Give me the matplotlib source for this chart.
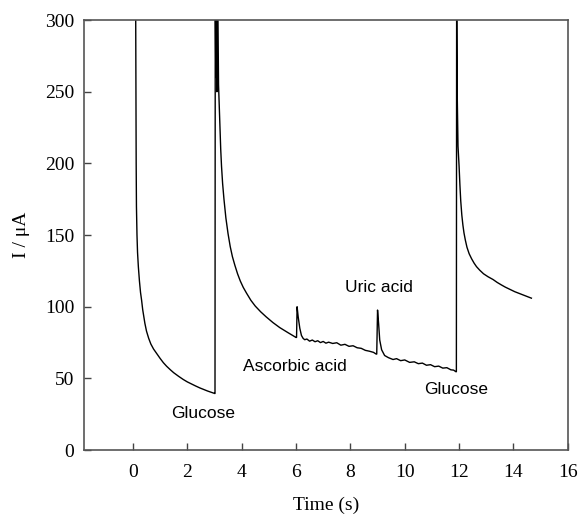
import matplotlib
matplotlib.use("Agg")
import matplotlib.pyplot as plt

# amperometric trace
t_glu1 = [0.10, 0.11, 0.12, 0.13, 0.15, 0.17, 0.20, 0.24, 0.28, 0.32, 0.36, 0.40,
          0.44, 0.50, 0.58, 0.66, 0.76, 0.87, 1.00, 1.12, 1.24, 1.38, 1.50, 1.68,
          1.85, 2.00, 2.15, 2.30, 2.46, 2.60, 2.75, 2.90, 3.01]
i_glu1 = [320, 250, 200, 170, 150, 138, 128, 118, 110, 104.5, 98, 93,
          88.5, 83, 78, 74, 70.5, 67.5, 64, 61, 58.5, 56, 54, 51.5,
          49.3, 47.6, 46.2, 44.8, 43.4, 42.3, 41.2, 40.2, 39.5]

t_glu2 = [3.02, 3.03, 3.05, 3.07, 3.09, 3.11, 3.13, 3.15, 3.17, 3.20, 3.23, 3.26,
          3.30, 3.35, 3.42, 3.50, 3.58, 3.66, 3.75, 3.85, 3.95, 4.06, 4.18, 4.34,
          4.50, 4.70, 4.90, 5.15, 5.40, 5.70, 6.00]
i_glu2 = [39.5, 320, 260, 320, 250, 320, 300, 255, 244, 228, 210, 198,
          186, 175, 162, 151, 142, 135, 129, 123, 118, 113.5, 109.5, 104.5,
          100.5, 96.5, 93, 89, 85.5, 82, 78.6]

t_asc = [6.02, 6.04, 6.08, 6.14, 6.20, 6.26, 6.32, 6.40, 6.50, 6.60, 6.70, 6.80,
         6.90, 7.00, 7.10, 7.20, 7.35, 7.50, 7.65, 7.80, 7.95, 8.10, 8.25,
         8.40, 8.55, 8.70, 8.85, 8.95]
i_asc = [78.6, 100, 93, 85, 80, 78, 77, 77.5, 76, 76.8, 75.6, 76.3,
         75, 75.8, 74.6, 75.3, 74.4, 74.9, 73.2, 73.8, 72.4, 72.8, 71.4,
         71.0, 69.6, 69.0, 68.2, 67]

t_uric = [8.97, 9.00, 9.04, 9.08, 9.15, 9.26, 9.40, 9.57, 9.70, 9.85, 10.00, 10.18,
          10.35, 10.50, 10.65, 10.80, 10.95, 11.10, 11.25, 11.40, 11.55, 11.70,
          11.80, 11.88]
i_uric = [67, 97.7, 88, 76.8, 70, 66, 64.5, 63.2, 63.8, 62.4, 62.9, 61.2,
          61.6, 60.3, 60.7, 59.2, 59.6, 58.2, 58.6, 57.2, 57.5, 56.0,
          55.8, 54.7]

t_glu3 = [11.90, 11.91, 11.93, 11.96, 12.00, 12.03, 12.06, 12.10, 12.14, 12.18,
          12.23, 12.29, 12.37, 12.46, 12.55, 12.64, 12.76, 12.90, 13.06, 13.25,
          13.40, 13.55, 13.70, 13.86, 14.05, 14.25, 14.45, 14.66]
i_glu3 = [54.7, 320, 250, 212, 198, 185, 174, 164, 157, 151.5,
          146.5, 141.5, 137, 133.5, 130.5, 128, 125.5, 123, 121, 119,
          117, 115.3, 113.7, 112.2, 110.5, 109, 107.5, 106]

t = t_glu1 + t_glu2 + t_asc + t_uric + t_glu3
i = i_glu1 + i_glu2 + i_asc + i_uric + i_glu3

labels = ["Glucose", "Ascorbic acid", "Uric acid", "Glucose"]
label_t = [2.57, 5.96, 9.04, 11.9]
label_i = [25.8, 58.0, 113.7, 42.3]

fig = plt.figure(figsize=(5.8, 5.15), dpi=100)
ax = fig.add_axes([0.1448, 0.126, 0.8342, 0.835])
ax.plot(t, i, color="black", lw=1.0)

ax.set_xlim(-1.8, 16)
ax.set_ylim(0, 300)
ax.set_xticks(range(0, 17, 2))
ax.set_yticks(range(0, 301, 50))

serif = "Liberation Serif"
ax.tick_params(direction="in", length=5, width=1, color="#444444",
               labelsize=14, top=False, right=False)
ax.tick_params(axis="y", pad=7)
ax.tick_params(axis="x", pad=10)
for lab in ax.get_xticklabels() + ax.get_yticklabels():
    lab.set_fontfamily(serif)
for sp in ax.spines.values():
    sp.set_color("#555555")
    sp.set_linewidth(1.2)

ax.set_xlabel("Time (s)", fontfamily=serif, fontsize=14, labelpad=11)
ax.set_ylabel("I / μA", fontfamily=serif, fontsize=14, labelpad=11)

for txt, x, y in zip(labels, label_t, label_i):
    ax.text(x, y, txt, ha="center", va="center", fontsize=12.5,
            fontfamily="Liberation Sans")

fig.savefig("out.png", dpi=100)
